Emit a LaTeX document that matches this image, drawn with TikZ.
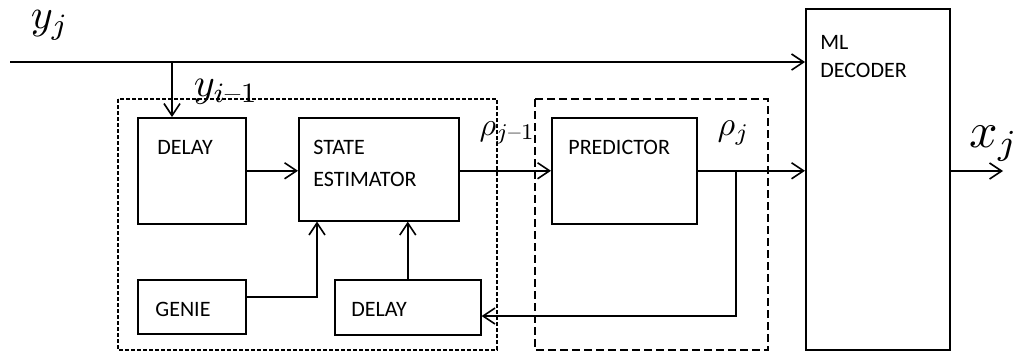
\documentclass[tikz,border=0pt]{standalone}
\usepackage{amsmath}
\usepackage{fontspec}
\newfontfamily\blkfont{Carlito}
\usetikzlibrary{arrows.meta}

\tikzset{
  blk/.style={draw, line width=0.8pt, inner sep=0pt, anchor=north west},
  tag/.style={anchor=north west, inner sep=0pt, xshift=8.5pt, yshift=-11.5pt,
    align=left, font=\blkfont\fontsize{11}{14}\selectfont},
  arr/.style={line width=0.8pt, -{Straight Barb[length=6pt,width=8pt]}},
  sig/.style={inner sep=0pt, anchor=base west},
  grpa/.style={line width=0.6pt, dash pattern=on 1.8pt off 1.2pt},
  grpb/.style={line width=0.8pt, dash pattern=on 4pt off 2pt},
}

\begin{document}
\begin{tikzpicture}[x=0.5pt, y=-0.5pt]
  \useasboundingbox (0,0) rectangle (1016,355);

  % dashed groups
  \draw[grpa] (118,99) rectangle (497,350);
  \draw[grpb] (535,99) rectangle (768,350);

  % blocks
  \node[blk, minimum width=54pt, minimum height=53pt,
    label={[tag, xshift=1.5pt]north west:DELAY}] (dly) at (137,117) {};
  \node[blk, minimum width=80pt, minimum height=51.5pt,
    label={[tag, xshift=-1pt, font=\blkfont\fontsize{11}{16}\selectfont]north west:STATE\\ESTIMATOR}] (est) at (298,117) {};
  \node[blk, minimum width=72.5pt, minimum height=53pt,
    label={[tag]north west:PREDICTOR}] (pred) at (551,117) {};
  \node[blk, minimum width=54pt, minimum height=27pt,
    label={[tag, xshift=0.5pt]north west:GENIE}] (genie) at (137,279) {};
  \node[blk, minimum width=73pt, minimum height=27.5pt,
    label={[tag]north west:DELAY}] (dlyb) at (334,279) {};
  \node[blk, minimum width=72pt, minimum height=170.5pt,
    label={[tag, xshift=-1pt, yshift=-2pt]north west:ML\\DECODER}] (dec) at (805,8) {};

  % signal names
  \node[sig, scale=2.1] (yj) at (30,28) {$y_j$};
  \node[sig, scale=2.0] (yprev) at (193,96) {$y_{i\text{--}1}$};
  \node[sig, scale=1.6] (rprev) at (479,135) {$\rho_{j\text{--}1}$};
  \node[sig, scale=1.7] (rj) at (717,135) {$\rho_j$};
  \node[sig, scale=2.5] (xj) at (968,147) {$x_j$};

  \coordinate (src) at (10,62);
  \coordinate (tap) at (172,62);
  \coordinate (fb) at (736,170);
  \coordinate (fbl) at (736,316);
  \coordinate (gk) at (317,297);
  \coordinate (out) at (1003,171);

  % connectors
  \draw[arr] (src) -- (src -| dec.west);
  \draw[arr] (tap) -- (tap |- dly.north);
  \draw[arr] (dly.east) -- (dly.east -| est.west);
  \draw[arr] (pred.west -| est.east) -- (pred.west);
  \draw[arr] (pred.east) -- (pred.east -| dec.west);
  \draw[arr] (dec.east |- out) -- (out);
  \draw[arr] (fb) -- (fbl) -- (fbl -| dlyb.east);
  \draw[arr] (dlyb.north) -- (dlyb.north |- est.south);
  \draw[arr] (gk -| genie.east) -- (gk) -- (gk |- est.south);
\end{tikzpicture}
\end{document}
